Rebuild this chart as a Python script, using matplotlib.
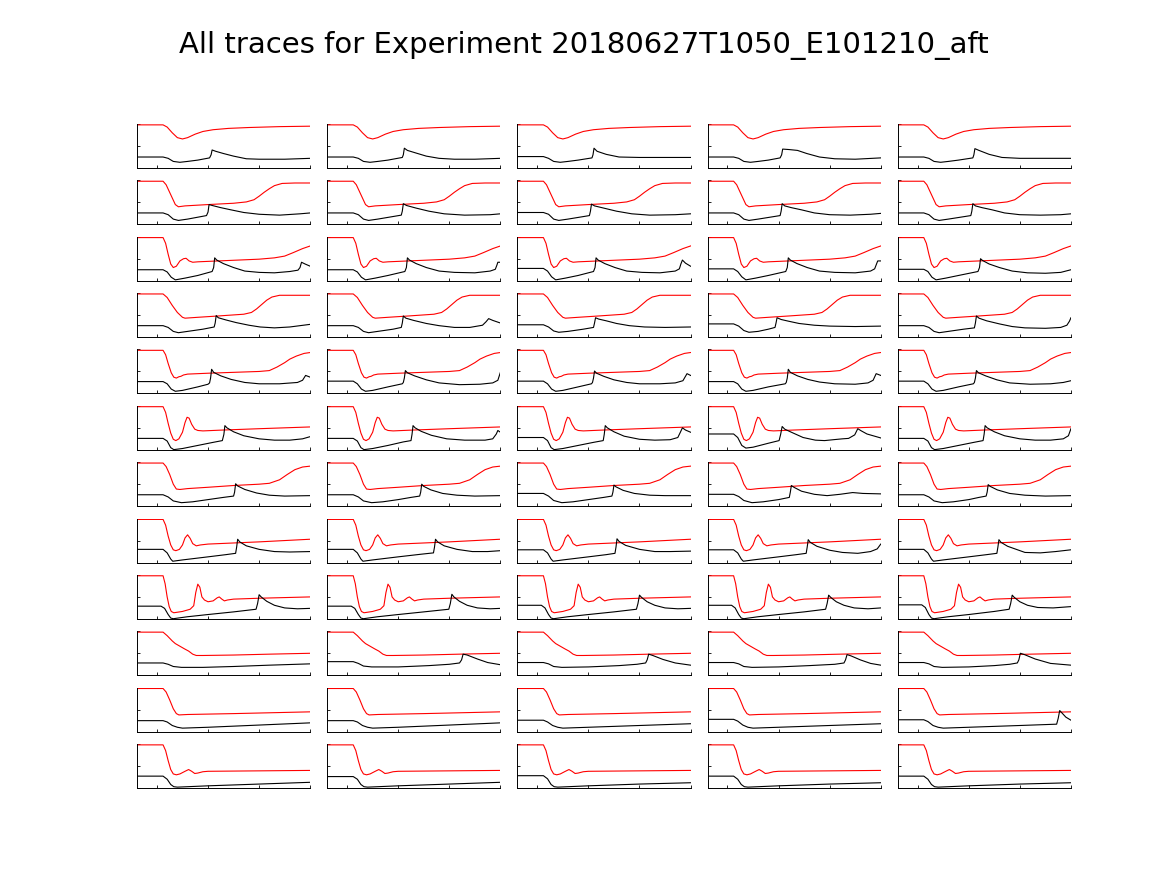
import numpy as np
import matplotlib
matplotlib.use("Agg")
import matplotlib.pyplot as plt

title = "All traces for Experiment 20180627T1050_E101210_aft"

# red trace per row (the 5 panels of a row look the same), (time, value)
red_1 = [(-0.39, .98), (.12, .98), (.2, .93), (.3, .8), (.4, .69), (.5, .66), (.6, .69), (.75, .77),
         (.9, .83), (1.1, .87), (1.4, .9), (1.8, .92), (2.4, .94), (3.0, .95)]
red_2 = [(-0.39, .98), (.12, .98), (.18, .9), (.28, .65), (.36, .45), (.42, .4), (.55, .42), (1.0, .45),
         (1.5, .48), (1.75, .51), (1.9, .56), (2.0, .64), (2.1, .73), (2.2, .81), (2.3, .88), (2.45, .93),
         (2.7, .94), (3.0, .94)]
red_3 = [(-0.39, .98), (.12, .98), (.17, .85), (.22, .6), (.27, .38), (.32, .3), (.38, .33), (.45, .45),
         (.52, .5), (.57, .51), (.63, .45), (.7, .42), (.8, .43), (1.2, .45), (1.6, .47), (2.0, .49),
         (2.3, .52), (2.5, .56), (2.67, .64), (2.85, .73), (3.0, .79)]
red_4 = [(-0.39, .98), (.12, .98), (.2, .9), (.3, .72), (.4, .56), (.5, .45), (.55, .43), (.8, .45),
         (1.2, .48), (1.7, .52), (1.85, .56), (1.95, .64), (2.05, .74), (2.15, .84), (2.25, .91),
         (2.4, .95), (3.0, .95)]
red_5 = [(-0.39, .98), (.12, .98), (.17, .88), (.22, .68), (.28, .47), (.33, .37), (.38, .35), (.43, .38),
         (.47, .39), (.52, .42), (.6, .44), (1.0, .46), (1.5, .48), (2.0, .5), (2.2, .52), (2.35, .6),
         (2.5, .7), (2.6, .78), (2.73, .85), (2.88, .91), (3.0, .93)]
red_6 = [(-0.39, .98), (.12, .98), (.17, .85), (.22, .6), (.27, .38), (.32, .24), (.37, .21), (.43, .25),
         (.5, .4), (.55, .62), (.59, .74), (.63, .72), (.68, .58), (.74, .47), (.8, .44), (.9, .43),
         (1.3, .45), (2.0, .48), (3.0, .52)]
red_7 = [(-0.39, .98), (.12, .98), (.18, .9), (.25, .72), (.32, .5), (.38, .39), (.45, .38), (.6, .4),
         (1.0, .43), (1.5, .47), (2.0, .5), (2.2, .52), (2.4, .6), (2.55, .72), (2.7, .83), (2.85, .89),
         (3.0, .91)]
red_8 = [(-0.39, .98), (.12, .98), (.17, .85), (.22, .6), (.27, .4), (.32, .29), (.37, .27), (.44, .3),
         (.5, .4), (.55, .56), (.6, .63), (.65, .55), (.7, .43), (.77, .38), (.85, .4), (1.0, .42),
         (2.0, .47), (3.0, .53)]
red_9 = [(-0.39, .98), (.12, .98), (.16, .8), (.2, .5), (.24, .28), (.28, .17), (.33, .14), (.5, .17),
         (.65, .22), (.72, .3), (.76, .6), (.8, .79), (.84, .72), (.88, .5), (.93, .43), (1.0, .39),
         (1.1, .41), (1.18, .48), (1.22, .5), (1.27, .45), (1.32, .41), (1.38, .43), (1.5, .45),
         (2.0, .47), (3.0, .5)]
red_10 = [(-0.39, .98), (.12, .98), (.2, .9), (.3, .78), (.36, .72), (.45, .66), (.54, .6), (.62, .55),
          (.7, .48), (.77, .45), (.9, .45), (1.5, .46), (2.2, .48), (3.0, .5)]
red_11 = [(-0.39, .98), (.12, .98), (.18, .9), (.25, .72), (.32, .52), (.38, .41), (.43, .38), (.6, .39),
          (1.5, .41), (3.0, .45)]
red_12 = [(-0.39, .98), (.12, .98), (.17, .85), (.22, .62), (.27, .42), (.32, .32), (.38, .3), (.45, .32),
          (.55, .38), (.62, .42), (.68, .38), (.74, .33), (.8, .34), (.9, .37), (1.0, .38), (2.0, .39),
          (3.0, .4)]

# black traces, one per panel
black_1 = [
    [(-0.39, .25), (.12, .25), (.22, .22), (.32, .15), (.45, .13), (.6, .15), (.8, .18), (1.03, .23),
     (1.06, .3), (1.08, .41), (1.15, .38), (1.3, .33), (1.5, .27), (1.75, .21), (2.0, .2), (2.5, .2), (3.0, .22)],
    [(-0.39, .25), (.12, .25), (.22, .22), (.32, .15), (.45, .13), (.6, .15), (.8, .18), (1.08, .24),
     (1.1, .3), (1.12, .45), (1.18, .4), (1.35, .34), (1.55, .27), (1.8, .22), (2.1, .2), (2.5, .2), (3.0, .22)],
    [(-0.39, .26), (.12, .26), (.22, .22), (.32, .15), (.45, .13), (.6, .15), (.8, .18), (1.07, .23),
     (1.09, .3), (1.11, .45), (1.17, .38), (1.35, .31), (1.6, .25), (2.0, .24), (3.0, .24)],
    [(-0.39, .25), (.12, .25), (.22, .22), (.32, .15), (.45, .13), (.6, .15), (.8, .18), (1.03, .23),
     (1.06, .3), (1.08, .43), (1.2, .42), (1.37, .4), (1.55, .33), (1.8, .25), (2.1, .21), (2.5, .2), (3.0, .23)],
    [(-0.39, .25), (.12, .25), (.22, .22), (.32, .15), (.45, .13), (.6, .15), (.8, .18), (1.08, .23),
     (1.1, .3), (1.12, .44), (1.2, .4), (1.4, .31), (1.65, .24), (2.0, .22), (3.0, .22)],
]
black_2 = [
    [(-0.39, .26), (.12, .26), (.22, .22), (.32, .12), (.42, .09), (.6, .12), (.97, .2), (1.0, .28),
     (1.02, .45), (1.08, .43), (1.25, .38), (1.45, .33), (1.7, .27), (2.0, .23), (2.4, .21), (2.8, .24), (3.0, .26)],
    [(-0.39, .26), (.12, .26), (.22, .22), (.32, .12), (.42, .09), (.6, .12), (1.06, .21), (1.08, .3),
     (1.1, .47), (1.16, .43), (1.35, .37), (1.6, .3), (1.9, .24), (2.3, .21), (2.8, .22), (3.0, .24)],
    [(-0.39, .27), (.12, .27), (.22, .23), (.32, .12), (.42, .09), (.6, .12), (1.02, .2), (1.04, .3),
     (1.06, .46), (1.12, .42), (1.3, .37), (1.55, .3), (1.85, .24), (2.2, .21), (2.7, .22), (3.0, .24)],
    [(-0.39, .26), (.12, .26), (.22, .22), (.32, .12), (.42, .09), (.6, .12), (1.03, .2), (1.05, .3),
     (1.07, .47), (1.12, .42), (1.25, .38), (1.45, .33), (1.7, .26), (2.0, .22), (2.4, .21), (2.8, .23), (3.0, .25)],
    [(-0.39, .26), (.12, .26), (.22, .22), (.32, .12), (.42, .09), (.6, .12), (1.04, .2), (1.06, .3),
     (1.08, .47), (1.13, .42), (1.26, .38), (1.46, .33), (1.7, .26), (2.0, .22), (2.4, .21), (2.8, .22), (3.0, .24)],
]
black_3 = [
    [(-0.39, .25), (.12, .25), (.2, .2), (.28, .08), (.36, .02), (.55, .06), (.8, .12), (1.08, .21),
     (1.11, .3), (1.13, .52), (1.17, .47), (1.3, .39), (1.5, .3), (1.72, .22), (2.0, .19), (2.3, .18),
     (2.6, .21), (2.76, .24), (2.8, .3), (2.83, .42), (2.9, .38), (3.0, .33)],
    [(-0.39, .25), (.12, .25), (.2, .2), (.28, .08), (.36, .02), (.55, .06), (.8, .12), (1.13, .21),
     (1.16, .3), (1.18, .52), (1.22, .47), (1.35, .39), (1.55, .3), (1.8, .22), (2.1, .19), (2.5, .18),
     (2.8, .22), (2.9, .26), (2.93, .35), (2.95, .42), (3.0, .42)],
    [(-0.39, .28), (.12, .28), (.2, .22), (.28, .09), (.36, .02), (.55, .06), (.8, .12), (1.1, .21),
     (1.13, .3), (1.15, .52), (1.19, .47), (1.32, .39), (1.52, .3), (1.75, .22), (2.05, .19), (2.4, .18),
     (2.7, .22), (2.78, .27), (2.81, .38), (2.84, .47), (2.9, .4), (3.0, .33)],
    [(-0.39, .27), (.12, .27), (.2, .21), (.28, .09), (.36, .02), (.55, .06), (.8, .12), (1.14, .21),
     (1.17, .3), (1.19, .52), (1.23, .47), (1.36, .39), (1.56, .3), (1.8, .22), (2.1, .19), (2.5, .18),
     (2.8, .22), (2.88, .27), (2.91, .36), (2.94, .45), (3.0, .45)],
    [(-0.39, .26), (.12, .26), (.2, .21), (.28, .08), (.36, .02), (.55, .06), (.8, .12), (1.18, .21),
     (1.21, .3), (1.23, .5), (1.27, .46), (1.4, .38), (1.6, .3), (1.85, .22), (2.15, .18), (2.5, .17),
     (2.8, .19), (3.0, .25)],
]
black_4 = [
    [(-0.39, .26), (.12, .26), (.22, .22), (.32, .13), (.42, .1), (.6, .13), (.9, .18), (1.12, .23),
     (1.14, .32), (1.16, .49), (1.2, .44), (1.35, .39), (1.55, .33), (1.8, .27), (2.02, .23), (2.3, .21),
     (2.6, .23), (3.0, .29)],
    [(-0.39, .26), (.12, .26), (.22, .22), (.32, .13), (.42, .1), (.6, .13), (.9, .18), (1.06, .22),
     (1.08, .32), (1.1, .48), (1.15, .43), (1.3, .38), (1.55, .31), (1.8, .26), (2.1, .22), (2.4, .22),
     (2.65, .27), (2.72, .35), (2.77, .42), (2.85, .38), (3.0, .32)],
    [(-0.39, .28), (.12, .28), (.22, .23), (.32, .14), (.42, .11), (.6, .13), (.9, .18), (1.1, .22),
     (1.12, .32), (1.14, .44), (1.2, .41), (1.35, .37), (1.55, .31), (1.8, .26), (2.1, .23), (2.5, .22), (3.0, .23)],
    [(-0.39, .3), (.12, .3), (.22, .25), (.32, .15), (.42, .11), (.6, .13), (.8, .18), (.93, .22),
     (.95, .32), (.97, .44), (1.05, .4), (1.2, .36), (1.4, .31), (1.7, .27), (2.0, .25), (2.5, .24), (3.0, .25)],
    [(-0.39, .26), (.12, .26), (.22, .22), (.32, .13), (.42, .1), (.6, .13), (.9, .18), (1.11, .21),
     (1.13, .32), (1.15, .48), (1.2, .43), (1.35, .37), (1.6, .3), (1.85, .24), (2.1, .21), (2.5, .2),
     (2.8, .22), (2.92, .27), (2.97, .36), (3.0, .44)],
]
black_5 = [
    [(-0.39, .27), (.12, .27), (.2, .22), (.28, .1), (.36, .05), (.5, .07), (.8, .15), (1.0, .21),
     (1.03, .24), (1.05, .35), (1.07, .55), (1.11, .48), (1.25, .4), (1.45, .32), (1.72, .25), (2.0, .22),
     (2.4, .22), (2.75, .25), (2.85, .3), (2.91, .41), (3.0, .37)],
    [(-0.39, .28), (.12, .28), (.2, .22), (.28, .1), (.36, .05), (.5, .07), (.8, .15), (1.08, .22),
     (1.1, .25), (1.12, .35), (1.14, .52), (1.18, .47), (1.32, .4), (1.55, .31), (1.8, .24), (2.2, .2),
     (2.6, .21), (2.85, .24), (2.95, .3), (3.0, .48)],
    [(-0.39, .28), (.12, .28), (.2, .22), (.28, .1), (.36, .05), (.5, .07), (.8, .15), (1.06, .22),
     (1.08, .25), (1.1, .35), (1.12, .51), (1.16, .46), (1.3, .39), (1.5, .31), (1.75, .25), (2.0, .22),
     (2.4, .22), (2.7, .24), (2.85, .29), (2.93, .45), (3.0, .41)],
    [(-0.39, .27), (.12, .27), (.2, .22), (.28, .1), (.36, .05), (.5, .07), (.8, .15), (1.13, .22),
     (1.15, .25), (1.17, .35), (1.19, .55), (1.23, .48), (1.37, .4), (1.57, .32), (1.8, .26), (2.1, .22),
     (2.5, .21), (2.75, .24), (2.85, .3), (2.91, .45), (3.0, .41)],
    [(-0.39, .28), (.12, .28), (.2, .22), (.28, .1), (.36, .05), (.5, .07), (.8, .15), (1.09, .22),
     (1.11, .25), (1.13, .35), (1.15, .52), (1.19, .47), (1.33, .4), (1.55, .31), (1.8, .24), (2.2, .21),
     (2.6, .22), (2.85, .25), (3.0, .29)],
]
black_6 = [
    [(-0.39, .26), (.12, .26), (.2, .2), (.27, .05), (.33, .005), (.5, .03), (.8, .1), (1.1, .17),
     (1.28, .21), (1.31, .35), (1.33, .55), (1.37, .5), (1.5, .41), (1.7, .32), (2.0, .25), (2.3, .22),
     (2.6, .22), (2.85, .25), (3.0, .3)],
    [(-0.39, .26), (.12, .26), (.2, .2), (.27, .05), (.33, .005), (.5, .03), (.8, .1), (1.1, .18),
     (1.25, .21), (1.27, .35), (1.29, .55), (1.33, .5), (1.45, .42), (1.65, .33), (1.95, .25), (2.3, .22),
     (2.7, .22), (2.85, .25), (2.92, .36), (2.95, .44), (3.0, .4)],
    [(-0.39, .28), (.12, .28), (.2, .21), (.27, .05), (.33, .005), (.5, .03), (.8, .1), (1.1, .17),
     (1.29, .21), (1.31, .35), (1.33, .55), (1.37, .5), (1.5, .41), (1.7, .31), (2.0, .24), (2.3, .22),
     (2.6, .23), (2.75, .28), (2.8, .4), (2.84, .5), (2.9, .45), (3.0, .4)],
    [(-0.39, .36), (.12, .36), (.2, .28), (.28, .1), (.36, .04), (.5, .06), (.8, .15), (1.01, .21),
     (1.04, .35), (1.07, .53), (1.12, .47), (1.25, .4), (1.48, .28), (1.72, .22), (1.9, .21), (2.07, .23),
     (2.25, .25), (2.37, .26), (2.49, .34), (2.55, .48), (2.62, .43), (2.73, .36), (3.0, .27)],
    [(-0.39, .26), (.12, .26), (.2, .2), (.27, .05), (.33, .005), (.5, .03), (.8, .1), (1.1, .17),
     (1.28, .21), (1.3, .35), (1.32, .55), (1.36, .5), (1.5, .41), (1.7, .32), (2.0, .25), (2.3, .22),
     (2.6, .22), (2.85, .25), (2.95, .32), (3.0, .48)],
]
black_7 = [
    [(-0.39, .26), (.12, .26), (.22, .21), (.32, .12), (.48, .08), (.7, .1), (1.0, .15), (1.3, .2),
     (1.5, .23), (1.52, .32), (1.54, .51), (1.58, .46), (1.72, .38), (1.95, .3), (2.2, .25), (2.5, .23), (3.0, .24)],
    [(-0.39, .26), (.12, .26), (.22, .21), (.32, .12), (.48, .08), (.7, .1), (1.0, .15), (1.25, .2),
     (1.42, .23), (1.44, .32), (1.46, .5), (1.5, .45), (1.64, .37), (1.87, .29), (2.15, .25), (2.5, .23), (3.0, .24)],
    [(-0.39, .29), (.12, .29), (.22, .23), (.32, .13), (.48, .08), (.7, .1), (1.0, .15), (1.3, .2),
     (1.46, .23), (1.48, .32), (1.5, .48), (1.54, .44), (1.68, .36), (1.9, .29), (2.2, .25), (2.5, .24), (3.0, .24)],
    [(-0.39, .27), (.12, .27), (.22, .22), (.32, .13), (.48, .08), (.7, .1), (1.0, .15), (1.21, .2),
     (1.23, .32), (1.25, .47), (1.3, .43), (1.45, .34), (1.7, .27), (1.95, .24), (2.2, .27), (2.45, .31),
     (2.65, .29), (3.0, .28)],
    [(-0.39, .26), (.12, .26), (.22, .21), (.32, .12), (.48, .08), (.7, .1), (1.0, .15), (1.2, .2),
     (1.34, .23), (1.36, .32), (1.38, .49), (1.42, .45), (1.56, .37), (1.8, .29), (2.1, .25), (2.5, .23), (3.0, .24)],
]
black_8 = [
    [(-0.39, .3), (.12, .3), (.2, .22), (.27, .08), (.31, .03), (.5, .06), (1.0, .13), (1.35, .18),
     (1.54, .21), (1.56, .35), (1.58, .53), (1.62, .47), (1.75, .38), (2.0, .3), (2.3, .25), (2.6, .24), (3.0, .25)],
    [(-0.39, .3), (.12, .3), (.2, .22), (.27, .08), (.31, .03), (.5, .06), (1.0, .13), (1.45, .19),
     (1.69, .22), (1.71, .35), (1.73, .53), (1.77, .47), (1.9, .38), (2.15, .3), (2.45, .25), (2.75, .25), (3.0, .27)],
    [(-0.39, .29), (.12, .29), (.2, .22), (.27, .08), (.31, .03), (.5, .06), (1.0, .13), (1.35, .18),
     (1.52, .21), (1.54, .35), (1.56, .54), (1.6, .48), (1.73, .39), (2.0, .3), (2.3, .25), (2.6, .25), (3.0, .26)],
    [(-0.39, .29), (.12, .29), (.2, .22), (.27, .08), (.31, .03), (.5, .06), (1.0, .13), (1.35, .18),
     (1.54, .21), (1.56, .35), (1.58, .52), (1.62, .46), (1.75, .37), (2.0, .28), (2.25, .23), (2.55, .21),
     (2.8, .25), (2.93, .31), (3.0, .42)],
    [(-0.39, .3), (.12, .3), (.2, .22), (.27, .08), (.31, .03), (.5, .06), (1.0, .13), (1.35, .18),
     (1.55, .21), (1.57, .35), (1.59, .52), (1.63, .46), (1.76, .37), (2.1, .23), (2.4, .22), (2.7, .25), (3.0, .29)],
]
black_9 = [
    [(-0.39, .29), (.08, .29), (.15, .24), (.22, .1), (.27, .02), (.32, .005), (.6, .05), (1.0, .1),
     (1.5, .16), (1.94, .22), (1.97, .35), (2.0, .55), (2.04, .5), (2.15, .4), (2.3, .31), (2.5, .25),
     (2.75, .23), (3.0, .24)],
    [(-0.39, .29), (.08, .29), (.15, .24), (.22, .1), (.27, .02), (.32, .005), (.6, .05), (1.0, .1),
     (1.5, .16), (1.99, .22), (2.02, .35), (2.05, .56), (2.09, .5), (2.2, .4), (2.35, .31), (2.55, .25),
     (2.8, .23), (3.0, .24)],
    [(-0.39, .31), (.08, .31), (.15, .25), (.22, .1), (.27, .02), (.32, .005), (.6, .05), (1.0, .1),
     (1.5, .16), (1.94, .22), (1.97, .35), (2.0, .54), (2.04, .49), (2.15, .39), (2.3, .31), (2.5, .25),
     (2.75, .23), (3.0, .24)],
    [(-0.39, .31), (.08, .31), (.15, .25), (.22, .1), (.27, .02), (.32, .005), (.6, .05), (1.0, .1),
     (1.5, .16), (1.92, .22), (1.95, .35), (1.98, .54), (2.02, .49), (2.13, .39), (2.28, .31), (2.48, .25),
     (2.75, .23), (3.0, .25)],
    [(-0.39, .32), (.08, .32), (.15, .26), (.22, .1), (.27, .02), (.32, .005), (.6, .05), (1.0, .1),
     (1.5, .17), (1.79, .22), (1.82, .35), (1.85, .54), (1.89, .49), (2.0, .39), (2.15, .31), (2.35, .26),
     (2.65, .25), (3.0, .28)],
]
black_10 = [
    [(-0.39, .28), (.12, .28), (.22, .25), (.32, .2), (.48, .18), (.9, .18), (1.5, .2), (2.2, .23), (3.0, .26)],
    [(-0.39, .31), (.12, .31), (.22, .27), (.32, .21), (.48, .19), (1.0, .19), (1.6, .22), (2.0, .25),
     (2.2, .28), (2.24, .35), (2.27, .48), (2.35, .46), (2.55, .37), (2.75, .29), (3.0, .24)],
    [(-0.39, .29), (.12, .29), (.22, .26), (.32, .2), (.48, .18), (1.0, .19), (1.6, .22), (1.95, .25),
     (2.12, .28), (2.15, .35), (2.18, .48), (2.26, .45), (2.46, .36), (2.7, .28), (3.0, .23)],
    [(-0.39, .29), (.12, .29), (.22, .26), (.32, .2), (.48, .18), (1.0, .19), (1.6, .22), (2.1, .25),
     (2.28, .28), (2.31, .35), (2.34, .47), (2.42, .44), (2.6, .35), (2.8, .27), (3.0, .23)],
    [(-0.39, .29), (.12, .29), (.22, .26), (.32, .2), (.48, .18), (1.0, .19), (1.5, .22), (1.8, .25),
     (1.95, .28), (1.98, .35), (2.01, .5), (2.09, .47), (2.3, .37), (2.6, .27), (3.0, .23)],
]
black_11 = [
    [(-0.39, .25), (.12, .25), (.2, .22), (.3, .14), (.4, .1), (.5, .08), (1.0, .1), (2.0, .15), (3.0, .2)],
    [(-0.39, .25), (.12, .25), (.2, .22), (.3, .14), (.4, .1), (.5, .08), (1.0, .1), (2.0, .15), (3.0, .2)],
    [(-0.39, .26), (.12, .26), (.2, .22), (.3, .14), (.4, .1), (.5, .08), (1.0, .1), (2.0, .14), (3.0, .18)],
    [(-0.39, .28), (.12, .28), (.2, .24), (.3, .15), (.4, .1), (.5, .08), (1.0, .1), (2.0, .14), (3.0, .18)],
    [(-0.39, .27), (.12, .27), (.2, .23), (.3, .14), (.4, .1), (.5, .08), (1.0, .1), (2.0, .14), (2.72, .17),
     (2.75, .3), (2.78, .48), (2.82, .43), (2.9, .33), (3.0, .26)],
]
black_12 = [
    [(-0.39, .27), (.12, .27), (.2, .2), (.27, .08), (.33, .03), (.4, .02), (1.0, .05), (2.0, .09), (3.0, .13)],
    [(-0.39, .26), (.12, .26), (.2, .2), (.27, .08), (.33, .03), (.4, .02), (1.0, .05), (2.0, .09), (3.0, .13)],
    [(-0.39, .28), (.12, .28), (.2, .21), (.27, .08), (.33, .03), (.4, .02), (1.0, .05), (2.0, .09), (3.0, .12)],
    [(-0.39, .27), (.12, .27), (.2, .2), (.27, .08), (.33, .03), (.4, .02), (1.0, .05), (2.0, .09), (3.0, .12)],
    [(-0.39, .27), (.12, .27), (.2, .2), (.27, .08), (.33, .03), (.4, .02), (1.0, .05), (2.0, .09), (3.0, .12)],
]

reds = [red_1, red_2, red_3, red_4, red_5, red_6, red_7, red_8, red_9, red_10, red_11, red_12]
blacks = [black_1, black_2, black_3, black_4, black_5, black_6, black_7, black_8, black_9, black_10,
          black_11, black_12]

fig, axes = plt.subplots(12, 5, figsize=(11.67, 8.75), dpi=100)
fig.subplots_adjust(left=0.1174, right=0.9177, bottom=0.0994, top=0.8583, wspace=0.098, hspace=0.28)

for r in range(12):
    rx, ry = np.array(reds[r]).T
    for c in range(5):
        ax = axes[r, c]
        bx, by = np.array(blacks[r][c]).T
        ax.plot(rx, ry, color="red", lw=0.8)
        ax.plot(bx, by, color="black", lw=0.8)
        ax.set_xlim(-0.39, 3.0)
        ax.set_ylim(0, 1.0)
        ax.set_xticks([0, 1, 2, 3])
        ax.set_yticks([0, 0.5, 1])
        ax.set_xticklabels([])
        ax.set_yticklabels([])
        ax.tick_params(direction="in", length=2.5, width=0.6)
        for s in ["top", "right"]:
            ax.spines[s].set_visible(False)
        for s in ["left", "bottom"]:
            ax.spines[s].set_linewidth(0.7)

fig.text(0.5, 0.948, title, ha="center", va="center", fontsize=21)

fig.savefig("out.png", dpi=100)
